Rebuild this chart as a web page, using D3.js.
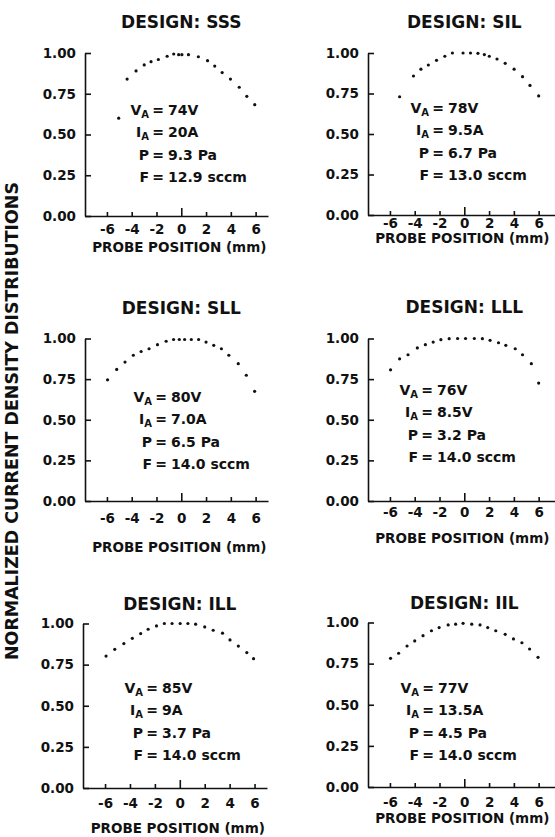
<!DOCTYPE html>
<html>
<head>
<meta charset="utf-8">
<script src="https://cdn.jsdelivr.net/npm/d3@7"></script>
<style>
  body { margin: 0; background: #fff; }
  svg text { font-family: "DejaVu Sans", sans-serif; font-weight: bold; fill: #111; }
  .axis path, .axis line { stroke: #111; stroke-width: 1.6; }
</style>
</head>
<body>
<svg id="chart" width="555" height="837"></svg>
<script>
// ---- data ----
const designs = ["SSS", "SIL", "SLL", "LLL", "ILL", "IIL"];
const anodeVoltage = ["74V", "78V", "80V", "76V", "85V", "77V"];
const anodeCurrent = ["20A", "9.5A", "7.0A", "8.5V", "9A", "13.5A"];
const pressure = ["9.3 Pa", "6.7 Pa", "6.5 Pa", "3.2 Pa", "3.7 Pa", "4.5 Pa"];
const flow = ["12.9 sccm", "13.0 sccm", "14.0 sccm", "14.0 sccm", "14.0 sccm", "14.0 sccm"];
const xTicks = [-6, -4, -2, 0, 2, 4, 6];
const yTicks = [0, 0.25, 0.5, 0.75, 1];

const pos_SSS = [-5.05, -4.37, -3.65, -2.99, -2.44, -1.85, -1.14, -0.61, -0.21, 0.05, 0.58, 1.38, 2.12, 2.70, 3.30, 3.97, 4.68, 5.29, 5.93];
const val_SSS = [0.60, 0.84, 0.89, 0.927, 0.947, 0.96, 0.98, 0.994, 0.99, 0.99, 0.99, 0.977, 0.953, 0.92, 0.88, 0.84, 0.79, 0.734, 0.683];

const pos_SIL = [-5.22, -4.10, -3.50, -2.90, -2.24, -1.57, -0.96, -0.10, 0.50, 1.10, 1.62, 2.02, 2.64, 3.30, 4.02, 4.70, 5.30, 6.00];
const val_SIL = [0.73, 0.858, 0.90, 0.926, 0.955, 0.98, 1.0, 1.0, 1.0, 0.998, 0.99, 0.98, 0.963, 0.936, 0.90, 0.854, 0.80, 0.735];

const pos_SLL = [-5.95, -5.21, -4.54, -3.87, -3.24, -2.60, -1.92, -1.22, -0.62, -0.16, 0.27, 0.81, 1.40, 2.00, 2.62, 3.24, 3.84, 4.60, 5.25, 5.92];
const val_SLL = [0.746, 0.81, 0.855, 0.897, 0.92, 0.937, 0.962, 0.983, 0.994, 0.994, 0.994, 0.994, 0.994, 0.978, 0.958, 0.937, 0.897, 0.845, 0.774, 0.675];

const pos_LLL = [-5.95, -5.22, -4.54, -3.79, -3.14, -2.51, -1.89, -1.22, -0.54, 0.10, 0.81, 1.46, 2.08, 2.76, 3.35, 4.11, 4.70, 5.41, 6.00];
const val_LLL = [0.807, 0.875, 0.90, 0.942, 0.962, 0.978, 0.993, 0.999, 1.0, 1.0, 1.0, 0.999, 0.989, 0.974, 0.958, 0.937, 0.90, 0.845, 0.726];

const pos_ILL = [-5.92, -5.22, -4.49, -3.81, -3.14, -2.54, -1.87, -1.24, -0.62, 0.03, 0.65, 1.27, 2.00, 2.68, 3.43, 4.03, 4.70, 5.38, 5.92];
const val_ILL = [0.802, 0.843, 0.878, 0.91, 0.939, 0.965, 0.985, 1.0, 1.0, 1.0, 1.0, 0.996, 0.979, 0.959, 0.941, 0.90, 0.863, 0.823, 0.786];

const pos_IIL = [-5.95, -5.30, -4.62, -4.00, -3.33, -2.65, -2.03, -1.30, -0.70, -0.10, 0.60, 1.27, 1.89, 2.54, 3.30, 3.97, 4.65, 5.27, 5.95];
const val_IIL = [0.782, 0.813, 0.857, 0.888, 0.92, 0.95, 0.969, 0.985, 0.99, 0.995, 0.99, 0.985, 0.969, 0.95, 0.928, 0.90, 0.877, 0.839, 0.788];

const positions = [pos_SSS, pos_SIL, pos_SLL, pos_LLL, pos_ILL, pos_IIL];
const values = [val_SSS, val_SIL, val_SLL, val_LLL, val_ILL, val_IIL];

// ---- layout (pixels) for each small panel ----
const layout = [
  { left: 85,  right: 268, top: 53,    bottom: 216, xMax: 7.0, titleY: 28,  tickDy: 13, labelDy: 31, eqX: 158, annY: 115 },
  { left: 368, right: 556, top: 53,    bottom: 215, xMax: 7.4, titleY: 28,  tickDy: 8,  labelDy: 23, eqX: 438, annY: 113 },
  { left: 85,  right: 268, top: 338.5, bottom: 501, xMax: 7.0, titleY: 314, tickDy: 17, labelDy: 46, eqX: 161, annY: 402 },
  { left: 368, right: 556, top: 338.5, bottom: 501, xMax: 7.4, titleY: 313, tickDy: 11, labelDy: 37, eqX: 427, annY: 395 },
  { left: 83,  right: 267, top: 623.5, bottom: 788, xMax: 7.0, titleY: 610, tickDy: 15, labelDy: 40, eqX: 152, annY: 693 },
  { left: 368, right: 556, top: 622.5, bottom: 787, xMax: 7.4, titleY: 609, tickDy: 15, labelDy: 31, eqX: 428, annY: 693 }
];

const svg = d3.select("#chart");

designs.forEach((name, i) => {
  const L = layout[i];
  const x = d3.scaleLinear().domain([-7.77, L.xMax]).range([L.left, L.right]);
  const y = d3.scaleLinear().domain([0, 1]).range([L.bottom, L.top]);
  const g = svg.append("g");

  // title
  g.append("text")
    .attr("x", x(0))
    .attr("y", L.titleY)
    .attr("text-anchor", "middle")
    .attr("font-size", 17)
    .text("DESIGN: " + name);

  // y axis, ticks pointing inward
  g.append("g")
    .attr("class", "axis")
    .attr("transform", `translate(${L.left},0)`)
    .call(d3.axisLeft(y).tickValues(yTicks).tickFormat(d3.format(".2f"))
      .tickSizeInner(-6).tickSizeOuter(0).tickPadding(9))
    .attr("font-size", 13.5);

  // x axis, ticks pointing up
  const xAxis = g.append("g")
    .attr("class", "axis")
    .attr("transform", `translate(0,${L.bottom})`)
    .call(d3.axisBottom(x).tickValues(xTicks)
      .tickFormat(d => d < 0 ? "-" + Math.abs(d) : String(d))
      .tickSizeInner(-4).tickSizeOuter(0).tickPadding(0))
    .attr("font-size", 13.5);
  xAxis.selectAll(".tick line").attr("y2", d => d === 0 ? -8 : -4);
  xAxis.selectAll(".tick text").attr("y", L.tickDy).attr("dy", "0.36em");

  g.append("text")
    .attr("x", x(0) - 2)
    .attr("y", L.bottom + L.labelDy)
    .attr("dy", "0.36em")
    .attr("text-anchor", "middle")
    .attr("font-size", 13.5)
    .text("PROBE POSITION (mm)");

  // data points
  g.selectAll("circle")
    .data(positions[i].map((p, k) => ({ p, v: values[i][k] })))
    .join("circle")
      .attr("cx", d => x(d.p))
      .attr("cy", d => y(d.v))
      .attr("r", 1.6)
      .attr("fill", "#111");

  // operating conditions
  const rows = [
    { sym: "V", sub: "A", val: anodeVoltage[i] },
    { sym: "I", sub: "A", val: anodeCurrent[i] },
    { sym: "P", sub: "",  val: pressure[i] },
    { sym: "F", sub: "",  val: flow[i] }
  ];
  const ann = g.append("g").attr("font-size", 14);
  rows.forEach((r, k) => {
    const yy = L.annY + k * 22.3;
    const lhs = ann.append("text")
      .attr("x", L.eqX - 9)
      .attr("y", yy)
      .attr("text-anchor", "end");
    lhs.append("tspan").text(r.sym);
    if (r.sub) lhs.append("tspan").attr("font-size", 10).attr("dy", 3).text(r.sub);
    ann.append("text").attr("x", L.eqX).attr("y", yy).attr("text-anchor", "middle").text("=");
    ann.append("text").attr("x", L.eqX + 10).attr("y", yy).text(r.val);
  });
});

// shared y title
svg.append("text")
  .attr("transform", "translate(12,421) rotate(-90)")
  .attr("text-anchor", "middle")
  .attr("dy", "0.36em")
  .attr("font-size", 18)
  .attr("textLength", 478)
  .attr("lengthAdjust", "spacingAndGlyphs")
  .text("NORMALIZED CURRENT DENSITY DISTRIBUTIONS");
</script>
</body>
</html>
